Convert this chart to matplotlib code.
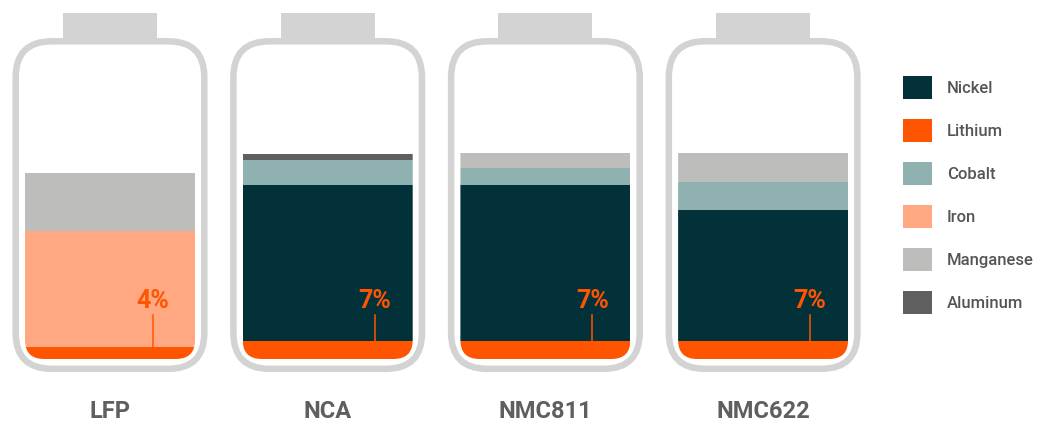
import matplotlib
matplotlib.use("Agg")
import matplotlib.pyplot as plt
from matplotlib.patches import FancyBboxPatch, Rectangle, Patch

plt.rcParams["font.family"] = ["Roboto", "DejaVu Sans"]

# data (share of cathode mass, %)
categories = ["LFP", "NCA", "NMC811", "NMC622"]
lithium = [4.6, 7.0, 7.0, 7.0]
iron = [44.6, 0, 0, 0]
nickel = [0, 60.1, 60.1, 50.2]
cobalt = [0, 9.5, 6.2, 10.8]
manganese = [22.3, 0, 5.8, 11.2]
aluminum = [0, 2.2, 0, 0]
lithium_labels = ["4%", "7%", "7%", "7%"]

colors = {
    "Nickel": "#02313a",
    "Lithium": "#ff5500",
    "Cobalt": "#8fb2b1",
    "Iron": "#ffa882",
    "Manganese": "#bdbdbc",
    "Aluminum": "#5f5f5f",
}
legend_order = ["Nickel", "Lithium", "Cobalt", "Iron", "Manganese", "Aluminum"]
stack = [("Lithium", lithium), ("Iron", iron), ("Nickel", nickel),
         ("Cobalt", cobalt), ("Manganese", manganese), ("Aluminum", aluminum)]

W, H = 1050, 423
fig = plt.figure(figsize=(W / 100, H / 100), dpi=100)
ax = fig.add_axes([0, 0, 1, 1])
ax.axis("off")

# layout: px per category step and px per percent
step_px = 217.7
pct_px = 2.6
x0_px = 110   # centre of first battery
y0_px = 359   # bottom of fill (from top)
ax.set_xlim(-x0_px / step_px, (W - x0_px) / step_px)
ax.set_ylim(-(H - y0_px) / pct_px, y0_px / pct_px)


def px_x(p):
    return p / step_px


def px_y(p):
    return p / pct_px


aspect = step_px / pct_px
outline_col = "#d3d3d3"
bar_w = px_x(170)

clips = []
for i in range(len(categories)):
    # battery cap
    ax.add_patch(Rectangle((i - px_x(47), px_y(y0_px - 41)), px_x(94), px_y(28),
                           facecolor=outline_col, edgecolor="none", zorder=1))
    # battery body outline
    ax.add_patch(FancyBboxPatch((i - px_x(94.3), px_y(-9.8)), px_x(188.6), px_y(327.5),
                                boxstyle=f"round,pad=0,rounding_size={px_x(36)}",
                                mutation_aspect=aspect, facecolor="white",
                                edgecolor=outline_col, linewidth=6.5 * 0.72, zorder=2))
    clip = FancyBboxPatch((i - bar_w / 2, 0), bar_w, 120,
                          boxstyle=f"round,pad=0,rounding_size={px_x(19)}",
                          mutation_aspect=aspect, transform=ax.transData,
                          facecolor="none", edgecolor="none")
    clips.append(clip)

bottom = [0] * len(categories)
for name, vals in stack:
    bars = ax.bar(range(len(categories)), vals, bar_w, bottom=bottom,
                  color=colors[name], linewidth=0, zorder=3)
    for b, c in zip(bars, clips):
        b.set_clip_path(c)
    bottom = [b + v for b, v in zip(bottom, vals)]

# lithium annotations
offsets = [43, 47, 47, 47]
for i, (v, lab) in enumerate(zip(lithium, lithium_labels)):
    xl = i + px_x(offsets[i])
    ax.plot([xl, xl], [v, px_y(44)], color=colors["Lithium"], lw=1.1, zorder=4)
    ax.text(xl, px_y(51), lab, ha="center", va="baseline", fontsize=18,
            fontweight="bold", color=colors["Lithium"], zorder=5)

# category labels
for i, c in enumerate(categories):
    ax.text(i, -px_y(411 - y0_px), c, ha="center", va="center", fontsize=17,
            fontweight="bold", color="#5f5f5f")

handles = [Patch(facecolor=colors[n], edgecolor="none", label=n) for n in legend_order]
leg = fig.legend(handles=handles, loc="upper left", bbox_to_anchor=(903 / W, 1 - 76.5 / H),
                 frameon=False, fontsize=12, handlelength=1.74, handleheight=1.74,
                 labelspacing=1.2, handletextpad=0.9, borderpad=0, borderaxespad=0,
                 labelcolor="#555555")
for t in leg.get_texts():
    t.set_fontweight("medium")

fig.savefig("out.png", dpi=100)
